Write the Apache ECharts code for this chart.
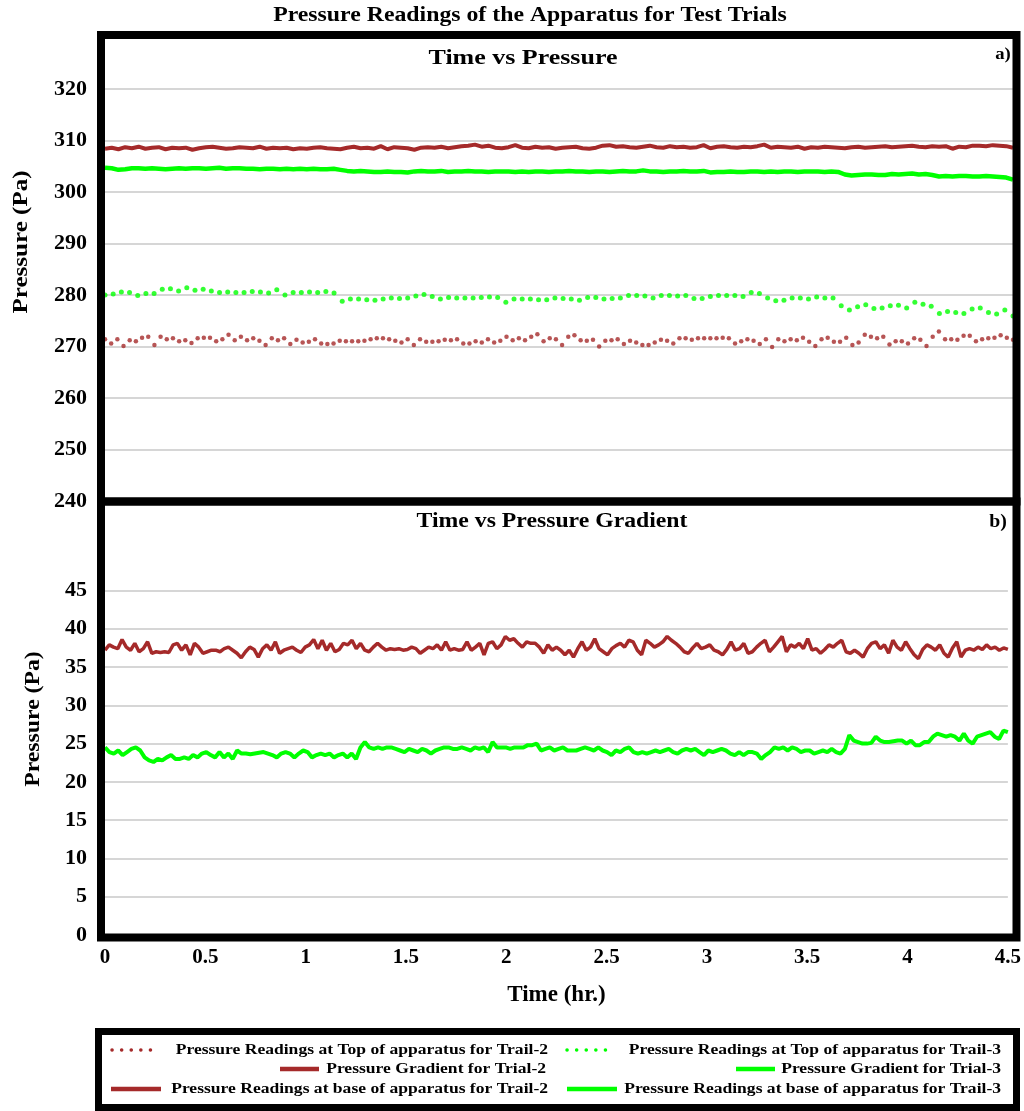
<!DOCTYPE html>
<html>
<head>
<meta charset="utf-8">
<title>Pressure Readings of the Apparatus for Test Trials</title>
<script src="https://cdn.jsdelivr.net/npm/echarts@6/dist/echarts.min.js"></script>
<style>
  html, body { margin: 0; padding: 0; background: #ffffff; }
  #chart { width: 1024px; height: 1111px; }
</style>
</head>
<body>
<div id="chart"></div>
<script>
// Run length in hours; every series is sampled evenly over the run.
const RUN_HOURS = 4.5;

// Axis ticks
const timeTicks = [0, 0.5, 1, 1.5, 2, 2.5, 3, 3.5, 4, 4.5];
const pressureTicks = [240, 250, 260, 270, 280, 290, 300, 310, 320];
const gradientTicks = [0, 5, 10, 15, 20, 25, 30, 35, 40, 45];

// Pressure readings at top of apparatus, Trail-2 (Pa)
const topTrail2 = [
  271.4, 270.6, 271.4, 270.1, 271.2, 271.0, 271.7, 271.9, 270.3, 271.9,
  271.4, 271.6, 271.0, 271.2, 270.7, 271.6, 271.7, 271.7, 271.0, 271.4,
  272.3, 271.2, 271.9, 271.2, 271.6, 271.1, 270.3, 271.6, 271.2, 271.6,
  270.5, 271.3, 270.8, 270.9, 271.4, 270.6, 270.5, 270.6, 271.1, 271.0,
  271.0, 271.0, 271.1, 271.4, 271.6, 271.6, 271.4, 271.1, 270.8, 271.4,
  270.3, 271.4, 270.9, 270.9, 271.0, 271.3, 271.2, 271.4, 270.6, 270.6,
  271.0, 270.8, 271.4, 270.8, 271.1, 271.9, 271.2, 271.6, 271.2, 271.9,
  272.4, 271.0, 271.6, 271.4, 270.3, 271.9, 272.2, 271.2, 271.1, 271.3,
  270.0, 271.1, 271.2, 271.4, 270.5, 271.1, 270.8, 270.3, 270.3, 270.8,
  271.3, 271.1, 270.6, 271.6, 271.6, 271.3, 271.6, 271.6, 271.6, 271.6,
  271.7, 271.6, 270.6, 271.0, 271.4, 271.1, 270.5, 271.4, 269.9, 271.4,
  271.0, 271.4, 271.2, 271.7, 270.9, 270.1, 271.4, 271.7, 270.9, 270.9,
  271.7, 270.3, 270.8, 272.3, 271.9, 271.6, 271.9, 270.4, 271.0, 271.0,
  270.6, 271.6, 271.3, 270.1, 271.9, 272.9, 271.4, 271.4, 271.3, 272.1,
  272.1, 271.0, 271.4, 271.6, 271.7, 272.2, 271.7, 271.3
];

// Pressure readings at top of apparatus, Trail-3 (Pa)
const topTrail3 = [
  280.0, 280.2, 280.6, 280.5, 279.9, 280.3, 280.3, 281.1, 281.2, 280.8,
  281.4, 280.9, 281.1, 280.8, 280.5, 280.6, 280.5, 280.5, 280.7, 280.6,
  280.4, 281.0, 280.0, 280.5, 280.5, 280.6, 280.5, 280.7, 280.4,
  278.8, 279.2, 279.2, 279.1, 279.0, 279.2, 279.4, 279.3, 279.4, 279.8,
  280.1, 279.7, 279.2, 279.5, 279.4, 279.4, 279.4, 279.5, 279.6, 279.5,
  278.6, 279.2, 279.2, 279.2, 279.1, 279.1, 279.4,
  279.3, 279.2, 279.0, 279.5, 279.5, 279.2, 279.3, 279.4, 279.9, 279.9,
  279.8, 279.4, 279.9, 279.9, 279.8, 279.9, 279.3, 279.3, 279.7, 279.9,
  279.9, 279.9, 279.7, 280.5, 280.3, 279.4, 278.9, 279.0, 279.4, 279.4,
  279.2, 279.6, 279.4, 279.4,
  277.9, 277.1, 277.7, 278.1, 277.4, 277.5, 277.9, 278.0, 277.5, 278.6,
  278.2, 277.8, 276.4, 276.8, 276.6, 276.4, 277.3, 277.5, 276.6, 276.3,
  277.1, 275.9
];

// Pressure readings at base of apparatus, Trail-2 (Pa)
const baseTrail2 = [
  308.4, 308.6, 308.3, 308.7, 308.5, 308.8, 308.4, 308.6, 308.7, 308.3,
  308.6, 308.5, 308.6, 308.2, 308.5, 308.7, 308.8, 308.6, 308.4, 308.5,
  308.7, 308.6, 308.5, 308.8, 308.4, 308.6, 308.5, 308.6, 308.3, 308.5,
  308.4, 308.6, 308.7, 308.5, 308.4, 308.3, 308.6, 308.8, 308.5, 308.6,
  308.4, 308.9, 308.3, 308.7, 308.6, 308.5, 308.2, 308.6, 308.7, 308.6,
  308.8, 308.5, 308.7, 308.9, 309.0, 309.2, 308.8, 309.0, 308.6, 308.5,
  308.7, 309.1, 308.6, 308.5, 308.8, 308.6, 308.7, 308.4, 308.6, 308.7,
  308.8, 308.5, 308.4, 308.6, 309.0, 309.1, 308.8, 308.9, 308.7, 308.6,
  308.8, 309.0, 308.7, 308.6, 308.9, 308.7, 308.8, 308.6, 308.7, 309.1,
  308.5, 308.8, 308.9, 308.7, 308.6, 308.8, 308.7, 308.9, 309.2, 308.6,
  308.8, 308.7, 308.6, 308.8, 308.4, 308.7, 308.6, 308.8, 308.7, 308.6,
  308.5, 308.7, 308.8, 308.6, 308.7, 308.8, 308.9, 308.7, 308.8, 308.9,
  309.0, 308.8, 308.7, 308.9, 308.8, 308.9, 308.4, 308.8, 308.7, 309.0,
  309.0, 308.9, 309.1, 309.0, 308.9, 308.6
];

// Pressure readings at base of apparatus, Trail-3 (Pa)
const baseTrail3 = [
  304.7, 304.6, 304.3, 304.4, 304.6, 304.6, 304.5, 304.6, 304.5, 304.4,
  304.5, 304.6, 304.5, 304.6, 304.6, 304.5, 304.6, 304.7, 304.5, 304.6,
  304.6, 304.5, 304.5, 304.4, 304.5, 304.5, 304.4, 304.5, 304.4, 304.5,
  304.4, 304.5, 304.4, 304.4, 304.5, 304.3, 304.1, 304.0, 304.1, 304.0,
  303.9, 303.9, 304.0, 303.9, 303.9, 303.8, 304.0, 304.1, 304.0, 304.0,
  304.1, 303.9, 304.0, 304.0, 304.1, 304.0, 304.0, 303.9, 304.0, 304.0,
  304.0, 303.9, 304.0, 303.9, 304.0, 304.0, 303.9, 304.0, 304.0, 304.1,
  304.0, 304.0, 303.9, 304.0, 304.0, 303.9, 304.0, 304.1, 304.0, 304.0,
  304.2, 304.0, 304.0, 303.9, 304.0, 304.0, 304.1, 304.0, 304.0, 304.1,
  303.8, 303.9, 303.9, 304.0, 303.9, 303.9, 304.0, 304.0, 303.9, 304.0,
  303.9, 304.0, 304.0, 303.9, 304.0, 304.0, 304.0, 303.9, 304.0, 303.9,
  303.4, 303.2, 303.3, 303.4, 303.4, 303.3, 303.3, 303.5, 303.4, 303.5,
  303.6, 303.4, 303.5, 303.3, 303.0, 303.1, 303.0, 303.1, 303.1, 303.0,
  303.0, 303.1, 303.0, 302.9, 302.8, 302.4
];

// Pressure gradient, Trial-2 (Pa)
const gradientTrial2 = [
  37.2, 37.9, 37.6, 37.4, 38.6, 37.6, 37.2, 38.1, 37.0, 37.4,
  38.3, 36.8, 37.0, 36.9, 37.0, 36.9, 37.9, 38.1, 37.2, 37.9,
  36.6, 38.1, 37.6, 36.8, 37.0, 37.2, 37.2, 37.0, 37.4, 37.6,
  37.2, 36.8, 36.2, 37.0, 37.6, 37.3, 36.3, 37.4, 37.9, 37.2,
  38.3, 36.8, 37.2, 37.4, 37.6, 37.2, 36.9, 37.6, 37.9, 38.6,
  37.4, 38.5, 37.2, 38.1, 37.0, 37.3, 38.1, 37.9, 38.5, 37.4,
  38.1, 37.2, 37.0, 37.6, 38.1, 37.6, 37.2, 37.4, 37.3, 37.4,
  37.2, 37.3, 37.6, 37.4, 36.8, 37.2, 37.6, 37.4, 37.9, 37.2,
  38.3, 37.2, 37.4, 37.2, 37.3, 38.3, 37.2, 37.6, 38.1, 36.6,
  38.1, 38.3, 37.4, 37.9, 39.0, 38.5, 38.7, 38.1, 37.6, 38.3,
  38.1, 38.1, 37.6, 36.8, 37.9, 37.2, 37.6, 37.2, 36.6,
  37.2, 36.3, 37.4, 38.3, 37.2, 37.6, 38.7, 37.4, 37.0, 36.6,
  37.4, 37.8, 38.1, 37.6, 38.5, 38.3, 37.2, 36.6, 38.5, 38.1,
  37.6, 37.9, 38.3, 39.0, 38.5, 38.1, 37.6, 37.0, 36.8, 37.5,
  38.1, 37.4, 37.6, 37.9, 37.2, 37.0, 36.6, 37.3, 38.3, 37.2,
  37.4, 38.1, 36.8, 37.0, 37.6, 38.1, 38.5, 37.0, 37.6, 38.3,
  39.0, 37.0, 37.9, 37.6, 38.1, 37.4, 38.7, 37.2, 37.4, 36.8,
  37.3, 37.9, 37.6, 38.1, 38.5, 37.0, 36.8, 37.2, 36.8, 36.3,
  37.4, 38.1, 38.3, 37.4, 37.9, 36.8, 38.5, 37.6, 37.2, 38.3,
  37.4, 36.6, 36.1, 37.3, 37.9, 37.6, 37.2, 37.9, 36.8, 36.3,
  37.5, 38.3, 36.3, 37.2, 37.4, 37.2, 37.6, 37.3, 37.9, 37.4,
  37.6, 37.2, 37.5, 37.3
];

// Pressure gradient, Trial-3 (Pa)
const gradientTrial3 = [
  24.5, 23.9, 23.7, 24.1, 23.5, 23.9, 24.3, 24.5, 24.1, 23.2,
  22.8, 22.6, 23.0, 22.8, 23.2, 23.5, 23.0, 23.0, 23.2, 23.0,
  23.5, 23.2, 23.7, 23.9, 23.5, 23.2, 23.9, 23.2, 23.7, 23.0,
  24.1, 23.7, 23.7, 23.6, 23.7, 23.8, 23.9, 23.7, 23.5, 23.2,
  23.7, 23.9, 23.7, 23.2, 23.7, 24.1, 23.9, 23.2, 23.5, 23.7,
  23.5, 23.7, 23.2, 23.5, 23.7, 23.2, 23.7, 23.0, 24.5, 25.2,
  24.5, 24.3, 24.5, 24.3, 24.5, 24.5, 24.3, 24.1, 23.9, 24.3,
  24.1, 23.9, 24.3, 24.1, 23.7, 24.1, 24.3, 24.5, 24.5, 24.3,
  24.3, 24.5, 24.3, 24.1, 24.5, 24.3, 24.5, 23.9, 25.2, 24.5,
  24.5, 24.5, 24.3, 24.5, 24.5, 24.5, 24.8, 24.8, 25.0, 24.1,
  24.3, 24.5,
  24.1, 24.3, 24.5, 24.1, 24.1, 24.1, 24.3, 24.5, 24.3, 24.1,
  24.5, 24.1, 23.9, 23.5, 24.1, 23.9, 24.3, 24.5, 23.9, 23.7,
  23.9, 23.7, 23.9, 24.1, 23.9, 24.1, 24.3, 23.9, 23.7, 24.1,
  24.3, 24.1, 24.3, 23.9, 23.5, 24.1, 23.9, 24.1, 24.3, 24.1,
  23.7, 23.5, 23.9, 23.5, 23.9, 23.9, 23.7, 23.0, 23.5, 23.9,
  24.5, 24.3, 24.5, 24.1, 24.5, 24.3, 23.9, 24.1, 24.1, 23.7,
  23.9, 24.1, 23.9, 24.3, 23.9, 23.7, 24.3, 26.1, 25.4, 25.2,
  25.0, 25.0, 25.1, 25.9, 25.4, 25.2, 25.2, 25.3, 25.4, 25.4,
  25.0, 25.4, 24.8, 24.8, 25.2, 25.2, 25.9, 26.3, 26.1, 25.9,
  26.1, 25.9, 25.4, 26.3, 25.4, 25.0, 25.9, 26.1, 26.3, 26.5,
  25.9, 25.6, 26.7, 26.5
];

const BROWN = '#a52a2a';
const LIME = '#00ff00';
const SERIF = '"Liberation Serif", "Times New Roman", serif';

// Pair each reading with its sample time, spaced evenly across the run.
function alongRun(values) {
  const step = RUN_HOURS / (values.length - 1);
  return values.map((v, i) => [i * step, v]);
}

// Bold serif caption, widened slightly along its reading direction.
function caption(text, x, y, size, widen, opts) {
  return Object.assign({
    type: 'text', z: 110, x: x, y: y, scaleX: widen,
    style: { text: text, font: 'bold ' + size + 'px ' + SERIF, fill: '#000',
      align: 'center', verticalAlign: 'middle' }
  }, opts || {});
}

const chart = echarts.init(document.getElementById('chart'), null, { renderer: 'canvas' });

const gridLine = { show: true, lineStyle: { color: '#d6d6d6', width: 2 } };
const tickFont = { fontFamily: SERIF, fontWeight: 'bold', color: '#000' };

// Legend rows drawn as graphic marks: [icon kind, colour, icon x0, icon x1, text right edge, y, text]
const legendRows = [
  ['dots', BROWN, 112, 160, 548, 1050, 'Pressure Readings at Top of apparatus for Trail-2'],
  ['dots', LIME, 567, 614, 1001, 1050, 'Pressure Readings at Top of apparatus for Trail-3'],
  ['line', BROWN, 280, 319, 546, 1069, 'Pressure Gradient for Trial-2'],
  ['line', LIME, 736, 775, 1001, 1069, 'Pressure Gradient for Trial-3'],
  ['line', BROWN, 111, 161, 548, 1089, 'Pressure Readings at base of apparatus for Trail-2'],
  ['line', LIME, 567, 617, 1001, 1089, 'Pressure Readings at base of apparatus for Trail-3']
];

const legendGraphics = [];
legendRows.forEach(([kind, color, x0, x1, tx, y, text]) => {
  legendGraphics.push({
    type: 'line', z: 110,
    shape: { x1: x0, y1: y, x2: x1, y2: y },
    style: kind === 'dots'
      ? { stroke: color, lineWidth: 3.5, lineCap: 'round', lineDash: [0.1, 9.5] }
      : { stroke: color, lineWidth: 4.5 }
  });
  legendGraphics.push({
    type: 'text', z: 110, x: tx, y: y, scaleX: 1.17,
    style: { text: text, font: 'bold 15px ' + SERIF, fill: '#000', align: 'right', verticalAlign: 'middle' }
  });
});

const option = {
  backgroundColor: '#ffffff',
  animation: false,
  grid: [
    { left: 105, right: 11, top: 89, height: 412 },
    { left: 105, right: 11, top: 590.5, height: 344.5 }
  ],
  xAxis: [
    {
      gridIndex: 0, type: 'value', min: timeTicks[0], max: timeTicks[timeTicks.length - 1],
      interval: 0.5, show: false
    },
    {
      gridIndex: 1, type: 'value', min: timeTicks[0], max: timeTicks[timeTicks.length - 1],
      interval: 0.5,
      axisLine: { show: false }, axisTick: { show: false }, splitLine: { show: false },
      axisLabel: Object.assign({ fontSize: 21, margin: 12, showMinLabel: true, showMaxLabel: true,
        customValues: timeTicks, formatter: v => String(v) }, tickFont),
      name: 'Time (hr.)', nameLocation: 'middle', nameGap: 49,
      nameTextStyle: { fontFamily: SERIF, fontWeight: 'bold', fontSize: 23, color: '#000' }
    }
  ],
  yAxis: [
    {
      gridIndex: 0, type: 'value', min: pressureTicks[0], max: pressureTicks[pressureTicks.length - 1],
      interval: 10,
      axisLine: { show: false }, axisTick: { show: false }, splitLine: gridLine,
      axisLabel: Object.assign({ fontSize: 22, margin: 18 }, tickFont)
    },
    {
      gridIndex: 1, type: 'value', min: gradientTicks[0], max: gradientTicks[gradientTicks.length - 1],
      interval: 5,
      axisLine: { show: false }, axisTick: { show: false }, splitLine: gridLine,
      axisLabel: Object.assign({ fontSize: 22, margin: 18 }, tickFont)
    }
  ],
  series: [
    {
      name: 'Pressure Readings at Top of apparatus for Trail-2', type: 'scatter',
      xAxisIndex: 0, yAxisIndex: 0, data: alongRun(topTrail2),
      symbol: 'circle', symbolSize: 4.5, itemStyle: { color: BROWN }
    },
    {
      name: 'Pressure Readings at Top of apparatus for Trail-3', type: 'scatter',
      xAxisIndex: 0, yAxisIndex: 0, data: alongRun(topTrail3),
      symbol: 'circle', symbolSize: 5, itemStyle: { color: LIME }
    },
    {
      name: 'Pressure Readings at base of apparatus for Trail-2', type: 'line',
      xAxisIndex: 0, yAxisIndex: 0, data: alongRun(baseTrail2),
      showSymbol: false, lineStyle: { color: BROWN, width: 4 }, itemStyle: { color: BROWN }
    },
    {
      name: 'Pressure Readings at base of apparatus for Trail-3', type: 'line',
      xAxisIndex: 0, yAxisIndex: 0, data: alongRun(baseTrail3),
      showSymbol: false, lineStyle: { color: LIME, width: 4.5 }, itemStyle: { color: LIME }
    },
    {
      name: 'Pressure Gradient for Trial-2', type: 'line',
      xAxisIndex: 1, yAxisIndex: 1, data: alongRun(gradientTrial2),
      showSymbol: false, lineStyle: { color: BROWN, width: 3.5 }, itemStyle: { color: BROWN }
    },
    {
      name: 'Pressure Gradient for Trial-3', type: 'line',
      xAxisIndex: 1, yAxisIndex: 1, data: alongRun(gradientTrial3),
      showSymbol: false, lineStyle: { color: LIME, width: 4 }, itemStyle: { color: LIME }
    }
  ],
  graphic: [
    // panel frames
    { type: 'rect', z: 100, shape: { x: 101, y: 35, width: 915.5, height: 466.5 },
      style: { fill: null, stroke: '#000', lineWidth: 8 } },
    { type: 'rect', z: 100, shape: { x: 101, y: 501.5, width: 915.5, height: 436 },
      style: { fill: null, stroke: '#000', lineWidth: 8 } },
    // legend box
    { type: 'rect', z: 100, shape: { x: 98.5, y: 1031.5, width: 918, height: 76 },
      style: { fill: '#fff', stroke: '#000', lineWidth: 7 } },
    // titles
    caption('Pressure Readings of the Apparatus for Test Trials', 530, 16, 20.5, 1.16),
    caption('Time vs Pressure', 523, 58, 22, 1.18),
    caption('a)', 1003, 55, 17, 1.1),
    caption('Time vs Pressure Gradient', 552, 522, 21, 1.13),
    caption('b)', 998, 522, 18, 1.1),
    // axis titles
    caption('Pressure (Pa)', 21, 242, 22, 1.14, { rotation: Math.PI / 2 }),
    caption('Pressure (Pa)', 34, 719, 21, 1.13, { rotation: Math.PI / 2 })
  ].concat(legendGraphics)
};

chart.setOption(option);
</script>
</body>
</html>
